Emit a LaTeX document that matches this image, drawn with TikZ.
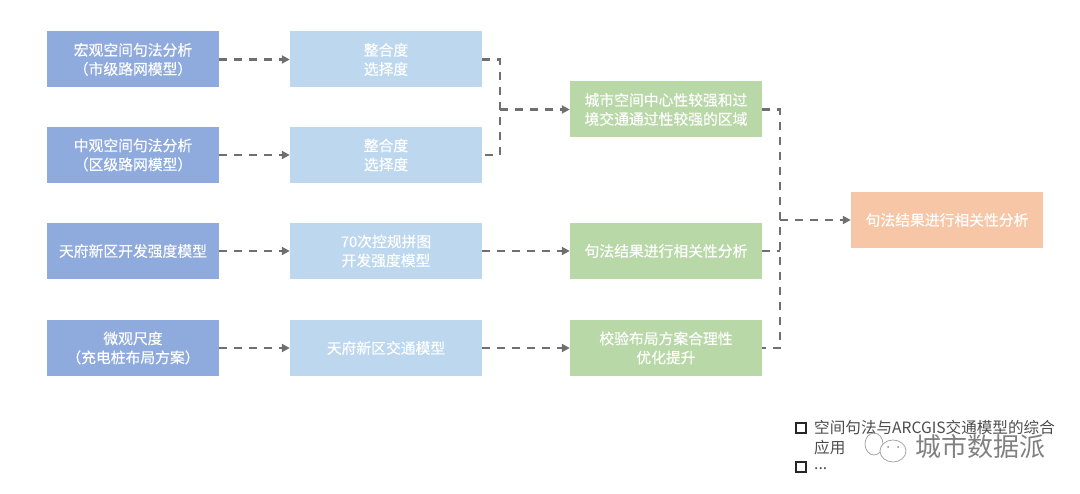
\documentclass[tikz,border=0pt]{standalone}
\usepackage{fontspec}
\setmainfont{Noto Sans CJK SC}
\newfontfamily\lab[FakeBold=0.25]{Noto Sans CJK SC}
\usetikzlibrary{arrows.meta}
\definecolor{cola}{HTML}{8FAADC}
\definecolor{colb}{HTML}{BDD7EE}
\definecolor{colc}{HTML}{B9D8A8}
\definecolor{cold}{HTML}{F6C6A6}
\definecolor{lnk}{HTML}{6F6F6F}
\tikzset{
 base/.style={minimum width=172pt,minimum height=56pt,inner sep=0pt,align=center,text=white,font=\lab\fontsize{14.8pt}{19pt}\selectfont},
 abox/.style={base,fill=cola,text=white},
 bbox/.style={base,fill=colb,minimum width=192pt},
 cbox/.style={base,fill=colc,minimum width=192pt},
 dbox/.style={base,fill=cold,minimum width=192pt},
 lnkline/.style={draw=lnk,line width=2.2pt,dash pattern=on 8pt off 7pt},
 lnkarrow/.style={lnkline,-{Triangle[length=8pt,width=8pt,fill=lnk]}},
 note/.style={inner sep=0pt,anchor=west,text=black!70,font=\fontsize{15.6pt}{20pt}\selectfont,align=left},
 bullet/.style={draw=black!85,line width=2.4pt,minimum size=9.5pt,inner sep=0pt},
 wechat/.style={draw=black!35,line width=.8pt}
}
\begin{document}
\begin{tikzpicture}[x=1pt,y=-1pt]
\useasboundingbox (0,0) rectangle (1080,494);
\node[abox] (a1) at (133,59.5) {宏观空间句法分析\\（市级路网模型）};
\node[abox] (a2) at (133,155) {中观空间句法分析\\（区级路网模型）};
\node[abox] (a3) at (133,251) {天府新区开发强度模型};
\node[abox] (a4) at (133,348) {微观尺度\\（充电桩布局方案）};
\node[bbox] (b1) at (386,59.5) {整合度\\选择度};
\node[bbox] (b2) at (386,155) {整合度\\选择度};
\node[bbox] (b3) at (386,251) {70次控规拼图\\开发强度模型};
\node[bbox] (b4) at (386,348) {天府新区交通模型};
\node[cbox] (c1) at (666,109.5) {城市空间中心性较强和过\\境交通通过性较强的区域};
\node[cbox] (c2) at (666,251) {句法结果进行相关性分析};
\node[cbox] (c3) at (666,348) {校验布局方案合理性\\优化提升};
\node[dbox] (d1) at (947,220) {句法结果进行相关性分析};
\coordinate (j1) at (500,109.5);
\coordinate (j2) at (780,220);
\foreach \n in {1,...,4}{\draw[lnkarrow] (a\n.east) -- (b\n.west);}
\draw[lnkline] (b1.east) -| (j1 |- b2.east) -- (b2.east);
\draw[lnkarrow] (j1) -- (c1.west);
\draw[lnkarrow] (b3.east) -- (c2.west);
\draw[lnkarrow] (b4.east) -- (c3.west);
\draw[lnkline] (c1.east) -| (j2 |- c3.east) -- (c3.east);
\draw[lnkline] (c2.east) -- (c2.east -| j2);
\draw[lnkarrow] (j2) -- (d1.west);
\node[bullet] (s1) at (801,428) {};
\node[bullet] (s2) at (801,467) {};
\node[note] (t1) at (814,438) {空间句法与ARCGIS交通模型的综合\\应用};
\node[note] (t2) at (814,469) {...};
\node[text=black!50,inner sep=0pt,anchor=west,font=\fontsize{26pt}{28pt}\selectfont] (w) at (915,447) {城市数据派};
\draw[wechat] (874,444) ellipse (9pt and 11pt);
\draw[wechat,fill=white] (893,451) ellipse (13pt and 11pt);
\fill[black!45] (888,447) circle (1pt) (898,447) circle (1pt);
\end{tikzpicture}
\end{document}
